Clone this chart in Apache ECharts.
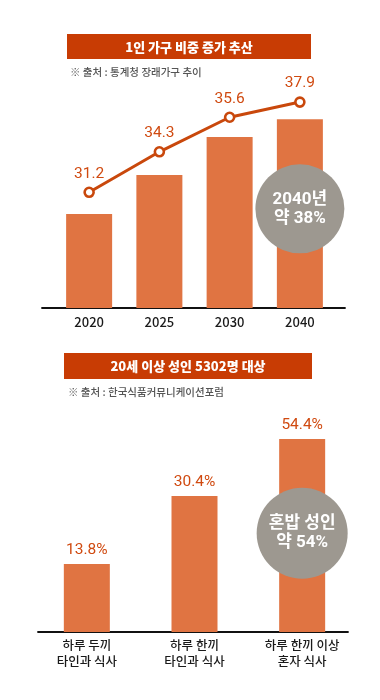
<!DOCTYPE html>
<html>
<head>
<meta charset="utf-8">
<script src="https://cdn.jsdelivr.net/npm/echarts@6/dist/echarts.min.js"></script>
<style>
html,body{margin:0;padding:0;background:#fff;}
#c{width:380px;height:700px;}
</style>
</head>
<body>
<div id="c"></div>
<script>
// ---- Chart 1: 1인 가구 비중 (%) ----
const years = ['2020', '2025', '2030', '2040'];
const householdShare = [31.2, 34.3, 35.6, 37.9];        // labelled values
const householdBarLevel = [42.7, 60.5, 77.7, 85.8];      // bar heights as drawn (index scale 0-100)
const householdLineLevel = [52.6, 71.0, 86.7, 93.6];     // line point heights as drawn (index scale 0-100)
const note1 = ['2040년', '약 38%'];

// ---- Chart 2: 식사 형태 (%) ----
const mealTypes = ['하루 두끼\n타인과 식사', '하루 한끼\n타인과 식사', '하루 한끼 이상\n혼자 식사'];
const mealShare = [13.8, 30.4, 54.4];                    // labelled values
const mealBarLevel = [30.9, 61.8, 87.7];                 // bar heights as drawn (index scale 0-100)
const note2 = ['혼밥 성인', '약 54%'];

const title1 = '1인 가구 비중 증가 추산';
const source1 = '※ 출처 : 통계청 장래가구 추이';
const title2 = '20세 이상 성인 5302명 대상';
const source2 = '※ 출처 : 한국식품커뮤니케이션포럼';

const BAR = '#E07442';
const LINE = '#C9480C';
const LABEL = '#D04A10';
const HEAD = '#C83C04';
const BADGE = '#9D9890';
const KR = "'Noto Sans CJK KR', sans-serif";
const NUM = "'Liberation Sans Narrow', 'Roboto', 'Noto Sans CJK KR', sans-serif";

const chart = echarts.init(document.getElementById('c'), null, {renderer: 'canvas'});

chart.setOption({
  animation: false,
  backgroundColor: '#fff',
  graphic: [
    {type: 'rect', shape: {x: 67, y: 34, width: 244, height: 25}, style: {fill: HEAD}},
    {type: 'text', x: 189, y: 47, style: {text: title1, fill: '#fff', font: '900 13px ' + KR, align: 'center', verticalAlign: 'middle'}},
    {type: 'text', x: 70, y: 72, style: {text: source1, fill: '#555', font: '500 10.5px ' + KR, align: 'left', verticalAlign: 'middle'}},
    {type: 'rect', shape: {x: 64, y: 353, width: 248, height: 26}, style: {fill: HEAD}},
    {type: 'text', x: 188, y: 366, style: {text: title2, fill: '#fff', font: '900 13px ' + KR, align: 'center', verticalAlign: 'middle'}},
    {type: 'text', x: 68, y: 392, style: {text: source2, fill: '#555', font: '500 10.5px ' + KR, align: 'left', verticalAlign: 'middle'}}
  ],
  grid: [
    {left: 54, width: 281, top: 88, height: 220},
    {left: 42, width: 303, top: 88, height: 220},
    {left: 33, width: 323, top: 412, height: 220},
    {left: 38, width: 310, top: 412, height: 220}
  ],
  xAxis: [
    {gridIndex: 0, type: 'category', data: years, axisLine: {show: false}, axisTick: {show: false},
     axisLabel: {color: '#1a1a1a', fontFamily: KR, fontWeight: 500, fontSize: 13, margin: 6, lineHeight: 16}},
    {gridIndex: 1, type: 'category', data: years, axisLine: {lineStyle: {color: '#111', width: 1.8}}, axisTick: {show: false}, axisLabel: {show: false}},
    {gridIndex: 2, type: 'category', data: mealTypes, axisLine: {show: false}, axisTick: {show: false},
     axisLabel: {color: '#1a1a1a', fontFamily: KR, fontWeight: 500, fontSize: 12.5, margin: 5, lineHeight: 16, interval: 0}},
    {gridIndex: 3, type: 'category', data: mealTypes, axisLine: {lineStyle: {color: '#111', width: 1.8}}, axisTick: {show: false}, axisLabel: {show: false}}
  ],
  yAxis: [0, 1, 2, 3].map(i => ({gridIndex: i, type: 'value', min: 0, max: 100, show: false})),
  series: [
    {
      type: 'bar', xAxisIndex: 0, yAxisIndex: 0, data: householdBarLevel, barWidth: 46,
      itemStyle: {color: BAR}, z: 2,
      markPoint: {
        symbol: 'circle', symbolSize: 89, silent: true,
        itemStyle: {color: BADGE},
        label: {show: true, formatter: note1.join('\n'), color: '#fff', fontFamily: NUM, fontWeight: 'bold', fontSize: 17, lineHeight: 19},
        data: [{coord: [years[3], 45.1]}]
      }
    },
    {
      type: 'line', xAxisIndex: 0, yAxisIndex: 0, data: householdLineLevel, z: 5,
      lineStyle: {color: LINE, width: 3},
      symbol: 'circle', symbolSize: 9, showAllSymbol: true,
      itemStyle: {color: '#fff', borderColor: LINE, borderWidth: 2.6},
      label: {show: true, position: 'top', distance: 5, color: LABEL, fontFamily: NUM, fontSize: 15.5,
        formatter: p => householdShare[p.dataIndex].toFixed(1)}
    },
    {
      type: 'bar', xAxisIndex: 2, yAxisIndex: 2, data: mealBarLevel, barWidth: 46,
      itemStyle: {color: BAR},
      label: {show: true, position: 'top', distance: 6, color: LABEL, fontFamily: NUM, fontSize: 15.5,
        formatter: p => mealShare[p.dataIndex].toFixed(1) + '%'},
      markPoint: {
        symbol: 'circle', symbolSize: 91, silent: true,
        itemStyle: {color: BADGE},
        label: {show: true, formatter: note2.join('\n'), color: '#fff', fontFamily: NUM, fontWeight: 'bold', fontSize: 17, lineHeight: 19},
        data: [{coord: [mealTypes[2], 44.9]}]
      }
    }
  ]
});
</script>
</body>
</html>
